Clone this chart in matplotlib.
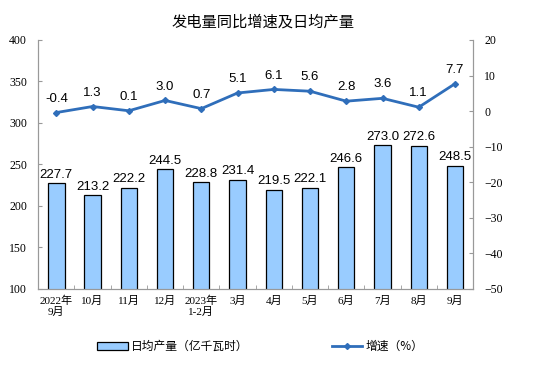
import matplotlib.pyplot as plt
from matplotlib.ticker import MultipleLocator

plt.rcParams['font.family'] = ['Noto Sans CJK SC', 'DejaVu Sans']

months = ['2022年\n9月', '10月', '11月', '12月', '2023年\n1-2月', '3月', '4月',
          '5月', '6月', '7月', '8月', '9月']
daily_output = [227.7, 213.2, 222.2, 244.5, 228.8, 231.4, 219.5, 222.1,
                246.6, 273.0, 272.6, 248.5]
growth = [-0.4, 1.3, 0.1, 3.0, 0.7, 5.1, 6.1, 5.6, 2.8, 3.6, 1.1, 7.7]

bar_color = '#99CCFF'
line_color = '#2F6EBA'
tick_fam = ['Liberation Serif', 'Noto Sans CJK SC']
num_fam = 'Liberation Sans'

fig = plt.figure(figsize=(5.54, 3.79), dpi=100)
ax = fig.add_axes([0.069, 0.2375, 0.785, 0.657])
ax2 = ax.twinx()

x = list(range(len(months)))
bars = ax.bar(x, daily_output, width=0.45, color=bar_color, edgecolor='black',
              linewidth=0.9, label='日均产量（亿千瓦时）', zorder=2)
for xi, v in zip(x, daily_output):
    ax.text(xi, v + 3, f'{v:.1f}', ha='center', va='bottom', fontsize=9.5,
            family=num_fam)

ax.set_ylim(100, 400)
ax.set_xlim(-0.5, len(months) - 0.5)
ax.yaxis.set_major_locator(MultipleLocator(50))
ax.set_xticks(x)
ax.set_xticklabels(months, fontsize=8, linespacing=1.05, family=tick_fam)
ax.set_xticks([i + 0.5 for i in x[:-1]], minor=True)
ax.tick_params(axis='x', which='major', length=0, pad=5)
ax.tick_params(axis='x', which='minor', length=3, color='#999999', direction='in')
ax.tick_params(axis='y', length=3, direction='in', color='#999999', labelsize=8.5, pad=8)
for lbl in ax.get_yticklabels():
    lbl.set_family(tick_fam)

line, = ax2.plot(x, growth, color=line_color, linewidth=2, marker='D',
                 markersize=3, label='增速（%）', zorder=3)
for xi, v in zip(x, growth):
    ax2.text(xi, v + 2.2, f'{v:.1f}', ha='center', va='bottom', fontsize=9.5,
             family=num_fam)
ax2.set_ylim(-50, 20)
ax2.yaxis.set_major_locator(MultipleLocator(10))
ax2.tick_params(axis='y', length=3, direction='in', color='#999999', labelsize=8.5, pad=8)
for lbl in ax2.get_yticklabels():
    lbl.set_family(tick_fam)

for a in (ax, ax2):
    a.spines['top'].set_visible(False)
    for s in a.spines.values():
        s.set_color('#999999')
        s.set_linewidth(0.8)

fig.suptitle('发电量同比增速及日均产量', x=0.475, y=0.965, fontsize=11)

fig.legend(handles=[bars, line], loc='center', bbox_to_anchor=(0.47, 0.085),
           ncol=2, frameon=False, fontsize=8.5, columnspacing=7,
           handlelength=2.6, handletextpad=0.3)

fig.savefig('out.png', dpi=100)
